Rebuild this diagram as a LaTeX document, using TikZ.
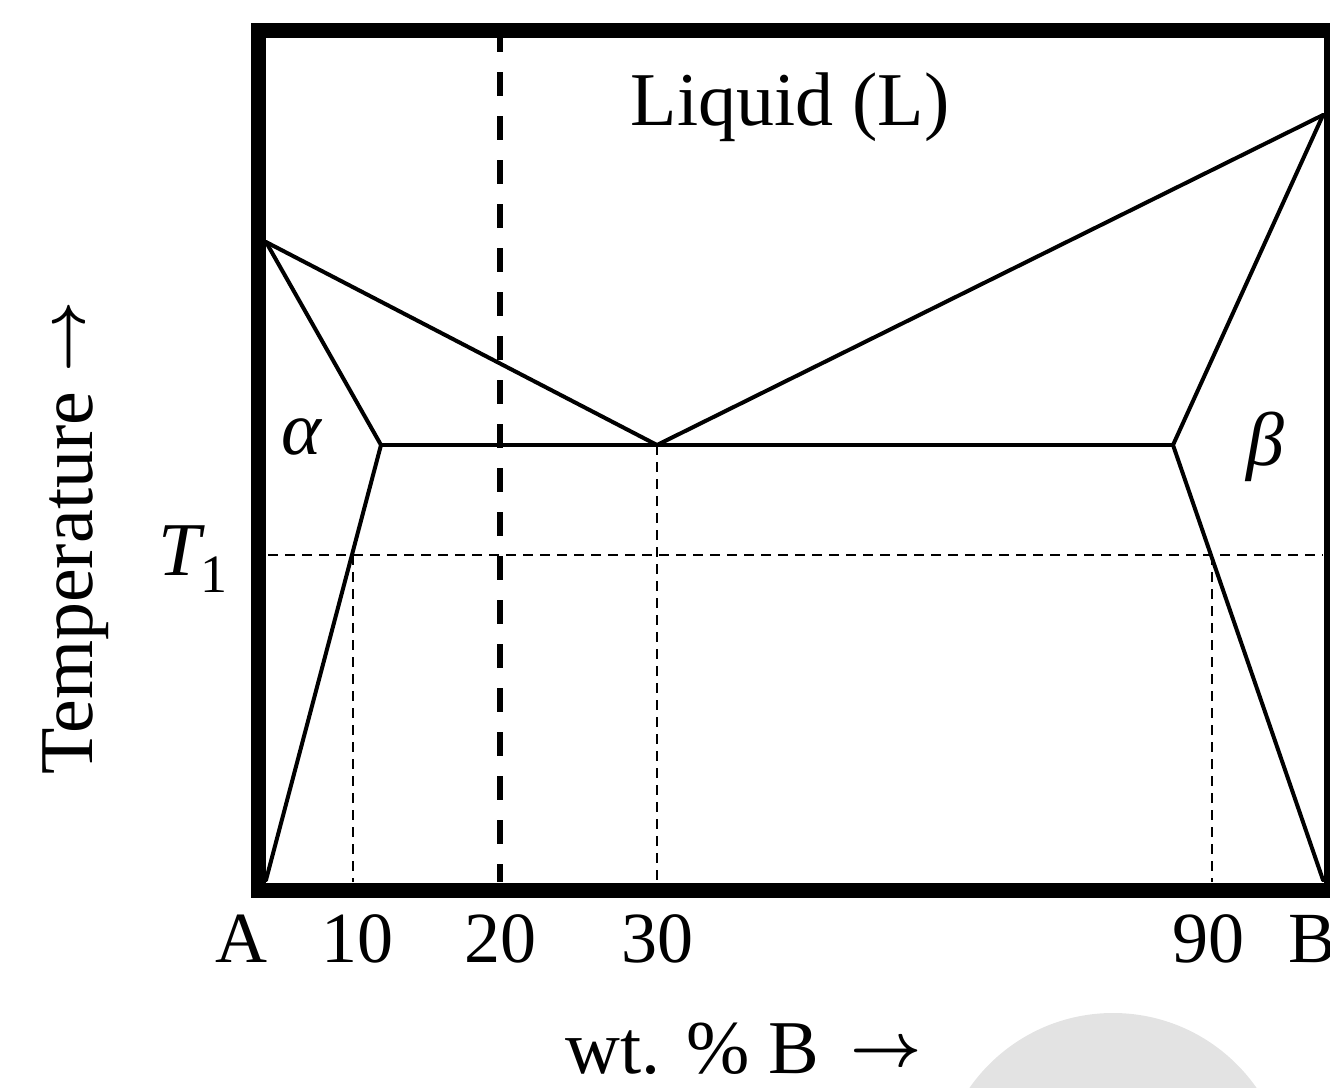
\documentclass[tikz,border=0pt]{standalone}
\usepackage{fontspec}
\setmainfont{Liberation Serif}
\newcommand{\bigarr}{\raisebox{7pt}{\scalebox{6.2}{\fontsize{10}{12}\selectfont\boldmath$\rightarrow$}}}
\begin{document}
\begin{tikzpicture}[x=1pt,y=-1pt,
  frame/.style={line width=15pt,line join=miter},
  phase/.style={line width=4pt,line join=round,line cap=round},
  thindash/.style={line width=2.2pt,dash pattern=on 10pt off 7pt},
  thickdash/.style={line width=6pt,dash pattern=on 24pt off 20pt,dash phase=10pt},
  lbl/.style={inner sep=0pt,font=\fontsize{76}{80}\selectfont},
  tick/.style={inner sep=0pt,anchor=base,font=\fontsize{72}{76}\selectfont}]
\useasboundingbox (0,0) rectangle (1330,1087);
% watermark blob
\fill[black!11] (1113,1188) circle (175);
% key points
\coordinate (mA) at (266,242);
\coordinate (mB) at (1323,115);
\coordinate (aV) at (381,445);
\coordinate (eu) at (657,445);
\coordinate (bV) at (1173,445);
\coordinate (aB) at (266,880);
\coordinate (bB) at (1323,880);
\coordinate (t1L) at (268,555);
\coordinate (t1R) at (1323,555);
\coordinate (x10t) at (353,555);
\coordinate (x10b) at (353,882);
\coordinate (x30b) at (657,882);
\coordinate (x90t) at (1212,555);
\coordinate (x90b) at (1212,882);
\coordinate (x20t) at (500,38);
\coordinate (x20b) at (500,882);
% dashed guides
\draw[thindash] (t1L) -- (t1R);
\draw[thindash] (x10t) -- (x10b);
\draw[thindash] (eu) -- (x30b);
\draw[thindash] (x90t) -- (x90b);
\draw[thickdash] (x20t) -- (x20b);
% phase boundaries
\draw[phase] (mA) -- (eu) -- (mB);
\draw[phase] (mA) -- (aV) -- (aB);
\draw[phase] (aV) -- (bV);
\draw[phase] (mB) -- (bV) -- (bB);
% frame
\draw[frame] (258,30) rectangle (1331,890);
% labels
\node[lbl,anchor=base] (liq) at (790,125) {Liquid (L)};
\node[lbl] (alpha) at (301,437) {\itshape α};
\node[lbl] (beta) at (1265,447) {\itshape β};
\node[lbl,anchor=base west] (T1) at (158,575) {\itshape T\raisebox{-17pt}{\upshape\fontsize{54}{54}\selectfont 1}};
\node[lbl,anchor=base west,rotate=90] (temp) at (92,775) {Temperature \bigarr};
\node[tick] (lA) at (241,962) {A};
\node[tick] (l10) at (357,962) {10};
\node[tick] (l20) at (500,962) {20};
\node[tick] (l30) at (657,962) {30};
\node[tick] (l90) at (1208,962) {90};
\node[tick,anchor=base west] (lB) at (1288,962) {B};
\node[lbl,anchor=base,text depth=0pt] (xlab) at (744,1073) {wt. \% B \,\bigarr};
\end{tikzpicture}
\end{document}
